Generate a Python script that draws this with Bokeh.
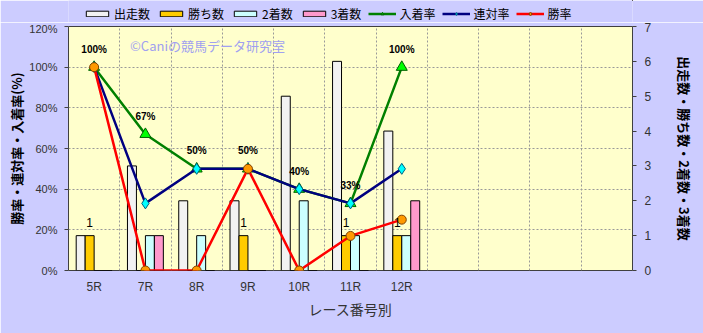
from bokeh.plotting import figure
from bokeh.layouts import column
from bokeh.models import (Range1d, LinearAxis, FixedTicker, Legend, LegendItem, Label)
from bokeh.core.properties import value
from bokeh.embed import file_html
from bokeh.resources import INLINE

races = ["5R", "7R", "8R", "9R", "10R", "11R", "12R"]
starts = [1, 3, 2, 2, 5, 6, 4]          # 出走数
wins = [1, 0, 0, 1, 0, 1, 1]            # 勝ち数
seconds = [0, 1, 1, 0, 2, 1, 1]         # 2着数
thirds = [0, 1, 0, 0, 0, 0, 2]          # 3着数
place_rate = [100, 67, 50, 50, 40, 33, 100]   # 入着率
rentai_rate = [100, 33, 50, 50, 40, 33, 50]   # 連対率
win_rate = [100, 0, 0, 50, 0, 17, 25]         # 勝率
place_labels = ["100%", "67%", "50%", "50%", "40%", "33%", "100%"]
n_slots = 11
left_ticks = [0, 20, 40, 60, 80, 100, 120]
right_ticks = [0, 1, 2, 3, 4, 5, 6, 7]

JP = "Noto Sans CJK JP"
NUM = "Liberation Sans"
BG = "#CCCCFF"
xs = list(range(len(races)))

bar_series = [("出走数", starts, "#F2F2F2"), ("勝ち数", wins, "#FFCC00"),
              ("2着数", seconds, "#CCFFFF"), ("3着数", thirds, "#FF99CC")]
line_series = [("入着率", place_rate, "#008000", "triangle", 11, "#00FF00", "#006000"),
               ("連対率", rentai_rate, "#000080", "diamond", 11, "#00FFFF", "#006080"),
               ("勝率", win_rate, "#FF0000", "circle", 9, "#FF9900", "#804000")]

p = figure(width=703, height=311, output_backend="svg", toolbar_location=None,
           x_range=Range1d(-0.5, n_slots - 0.5), y_range=Range1d(0, 120),
           min_border_left=68, min_border_right=71, min_border_top=4, min_border_bottom=63)
p.background_fill_color = "#FFFFCC"
p.border_fill_color = BG
p.outline_line_color = "#404040"
p.outline_line_width = 1
p.extra_y_ranges = {"cnt": Range1d(0, 7)}

# grids
p.ygrid.ticker = FixedTicker(ticks=left_ticks[1:-1])
p.ygrid.grid_line_color = "#999999"
p.ygrid.grid_line_dash = "2 2"
p.xgrid.ticker = FixedTicker(ticks=[i + 0.5 for i in range(n_slots - 1)])
p.xgrid.grid_line_color = "#999999"
p.xgrid.grid_line_dash = "2 2"

# axes
xa = p.xaxis[0]
xa.ticker = FixedTicker(ticks=xs)
xa.major_label_overrides = {i: r for i, r in enumerate(races)}
xa.major_tick_line_color = None
xa.minor_tick_line_color = None
xa.axis_line_color = None
xa.major_label_text_font = NUM
xa.major_label_text_font_size = "12px"
xa.major_label_text_color = "#333333"
xa.major_label_standoff = 3
xa.axis_label = "レース番号別"
xa.axis_label_text_font = JP
xa.axis_label_text_font_size = "14px"
xa.axis_label_text_font_style = "normal"
xa.axis_label_text_color = "#333333"
xa.axis_label_standoff = 2

ya = p.yaxis[0]
ya.ticker = FixedTicker(ticks=left_ticks)
ya.major_label_overrides = {t: f"{t}%" for t in left_ticks}
ya.minor_tick_line_color = None
ya.axis_line_color = None
ya.major_tick_in = 0
ya.major_tick_out = 4
ya.major_tick_line_color = "#404040"
ya.major_label_text_font = NUM
ya.major_label_text_font_size = "11px"
ya.major_label_text_color = "#333333"
ya.major_label_standoff = 7
ya.axis_label = "勝率・連対率・入着率(%)"
ya.axis_label_text_font = JP
ya.axis_label_text_font_size = "13px"
ya.axis_label_text_font_style = "bold"
ya.axis_label_text_color = "#000000"
ya.axis_label_standoff = 0

ra = LinearAxis(y_range_name="cnt", ticker=FixedTicker(ticks=right_ticks))
ra.minor_tick_line_color = None
ra.axis_line_color = None
ra.major_tick_in = 0
ra.major_tick_out = 4
ra.major_tick_line_color = "#404040"
ra.major_label_text_font = NUM
ra.major_label_text_font_size = "12px"
ra.major_label_text_color = "#333333"
ra.major_label_standoff = 8
ra.axis_label = "出走数・勝ち数・2着数・3着数"
ra.axis_label_text_font = JP
ra.axis_label_text_font_size = "13px"
ra.axis_label_text_font_style = "bold"
ra.axis_label_text_color = "#000000"
ra.axis_label_standoff = 21
p.add_layout(ra, "right")

# bars
bw = 0.175
offs = [-0.2625, -0.0875, 0.0875, 0.2625]
for (name, vals, col), o in zip(bar_series, offs):
    p.vbar(x=[x + o for x in xs], top=vals, width=bw, bottom=0, y_range_name="cnt",
           fill_color=col, line_color="#000000", line_width=1)

# lines
for name, vals, lc, mk, sz, fc, oc in line_series:
    p.line(xs, vals, line_color=lc, line_width=2.5)
    p.scatter(xs, vals, marker=mk, size=sz, fill_color=fc, line_color=oc)

# data labels
p.text(xs, place_rate, text=place_labels, text_align="center", text_baseline="middle",
       y_offset=-18, text_font=value(NUM), text_font_size="10px", text_font_style="bold",
       text_color="#000000")
wx = [x + offs[1] for x, w in zip(xs, wins) if w > 0]
wy = [w for w in wins if w > 0]
wt = [str(w) for w in wins if w > 0]
p.text(wx, wy, text=wt, y_range_name="cnt", text_align="center", text_baseline="middle",
       y_offset=-13, text_font=value(NUM), text_font_size="12px", text_color="#000000")

# watermark
p.add_layout(Label(x=0.7, y=110.5, text="©Caniの競馬データ研究室", text_font=JP,
                   text_font_size="13px", text_color="#A0A0F0", text_baseline="middle"))

# legend strip (separate figure on top, legend-only; its frame aligns with the chart's)
lg = figure(width=703, height=22, output_backend="svg", toolbar_location=None,
            x_range=Range1d(0, 1), y_range=Range1d(0, 1), min_border=0)
lg.axis.visible = False
lg.grid.visible = False
lg.outline_line_color = None
lg.background_fill_color = BG
lg.border_fill_color = BG
items = []
for name, vals, col in bar_series:
    r = lg.vbar(x=[5], top=[5], bottom=[4], width=0.1, fill_color=col, line_color="#000000")
    items.append(LegendItem(label=name, renderers=[r]))
for name, vals, lc, mk, sz, fc, oc in line_series:
    rl = lg.line(x=[5, 6], y=[5, 5], line_color=lc, line_width=2.5)
    rs = lg.scatter(x=[5], y=[5], marker=mk, size=sz - 1, fill_color=fc, line_color=oc)
    items.append(LegendItem(label=name, renderers=[rl, rs]))
legend = Legend(items=items, orientation="horizontal", location=(15, 0),
                label_text_font=JP, label_text_font_size="12px", label_text_color="#000000",
                glyph_width=28, glyph_height=7, label_standoff=3, spacing=7,
                padding=0, margin=0, background_fill_alpha=0, border_line_color=None,
                label_height=14)
lg.add_layout(legend)

layout = column(lg, p, spacing=0)
open("out.html", "w").write(file_html(layout, INLINE))
